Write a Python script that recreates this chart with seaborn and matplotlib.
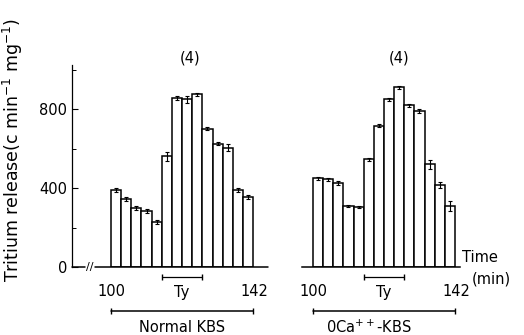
import seaborn as sns
import matplotlib.pyplot as plt
import pandas as pd

# 3-min fractions, 100-142 min
tiempoInicio = [100, 103, 106, 109, 112, 115, 118, 121, 124, 127, 130, 133, 136, 139]
liberacionNormal = [390, 345, 300, 285, 230, 560, 855, 850, 875, 700, 625, 605, 390, 355]
errorNormal = [12, 12, 10, 10, 10, 22, 10, 18, 8, 8, 8, 18, 8, 10]
liberacionSinCa = [450, 445, 425, 310, 305, 545, 715, 850, 910, 820, 790, 520, 415, 310]
errorSinCa = [8, 8, 12, 6, 6, 8, 8, 8, 8, 8, 10, 22, 15, 25]
paneles = ["Normal KBS", "0Ca$^{++}$-KBS"]
numeroN = ["(4)", "(4)"]
tyInicio, tyFin = 115, 127

mitad = [t + 1.5 for t in tiempoInicio]
df = pd.DataFrame({
    "tiempo": mitad * 2,
    "liberacion": liberacionNormal + liberacionSinCa,
    "error": errorNormal + errorSinCa,
    "medio": [paneles[0]] * 14 + [paneles[1]] * 14,
})

sns.set_style("white")
plt.rcParams['font.family'] = ['DejaVu Sans']
plt.rcParams.update({"text.color": "black", "axes.labelcolor": "black",
                     "xtick.color": "black", "ytick.color": "black"})
fig = plt.figure(figsize=(5.24, 3.35), dpi=100)
axIzq = fig.add_axes([72 / 524, 68 / 335, 196 / 524, 202.4 / 335])
axDer = fig.add_axes([302 / 524, 68 / 335, 158 / 524, 202.4 / 335])
ejes = [axIzq, axDer]
limites = [(88.46, 146.4), (96.75, 143.5)]

for i, (ax, medio) in enumerate(zip(ejes, paneles)):
    datos = df[df["medio"] == medio]
    sns.barplot(data=datos, x="tiempo", y="liberacion", native_scale=True, width=1,
                color="white", saturation=1, edgecolor="black", linewidth=1.1,
                errorbar=None, ax=ax)
    ax.errorbar(datos["tiempo"], datos["liberacion"], yerr=datos["error"], fmt="none",
                ecolor="black", elinewidth=0.8, capsize=1.5, capthick=0.8)
    ax.set_xlim(*limites[i])
    ax.set_ylim(0, 1025)
    ax.set_xlabel("")
    ax.set_ylabel("")
    ax.set_xticks([100, 142.5])
    ax.set_xticklabels(["100", "142"], fontsize=10.5)
    ax.tick_params(axis="x", length=0, pad=12)
    for s in ["top", "right", "left", "bottom"]:
        ax.spines[s].set_visible(False)
    ax.set_facecolor("none")
    # Ty bracket
    ax.plot([tyInicio, tyFin], [-50, -50], color="black", lw=0.9, marker="|", ms=4,
            clip_on=False)
    ax.text((tyInicio + tyFin) / 2, -130, "Ty", ha="center", va="center", fontsize=10.5)
    # condición
    ax.plot([100, 142], [-222, -222], color="black", lw=1.1, marker="|", ms=4, clip_on=False)
    ax.text(121 if i == 0 else 116.5, -305, medio, ha="center", va="center", fontsize=10.5)
    ax.text(123.3 if i == 0 else 125.4, 1060, numeroN[i], ha="center", va="center",
            fontsize=10.5)

# eje izquierdo con corte
axIzq.spines["left"].set_visible(True)
axIzq.spines["left"].set_color("black")
axIzq.spines["left"].set_linewidth(0.9)
axIzq.set_yticks([0, 400, 800])
axIzq.set_yticks([200, 600, 1000], minor=True)
axIzq.set_yticklabels(["0", "400", "800"], fontsize=10.5)
axIzq.tick_params(axis="y", which="major", direction="in", length=4, width=0.8, left=True)
axIzq.tick_params(axis="y", which="minor", direction="in", length=3, width=0.7, left=True)
axIzq.plot([88.46, 92.3], [0, 0], color="black", lw=1.1, clip_on=False)
axIzq.plot([95.3, 146.4], [0, 0], color="black", lw=1.1, clip_on=False)
axIzq.text(93.8, 0, "//", ha="center", va="center", fontsize=8)
axDer.set_yticks([])
axDer.tick_params(axis="y", left=False, labelleft=False)
axDer.spines["bottom"].set_visible(True)
axDer.spines["bottom"].set_color("black")
axDer.spines["bottom"].set_linewidth(1.1)

axIzq.set_ylabel("Tritium release(c min$^{-1}$ mg$^{-1}$)", fontsize=12.5)
axIzq.yaxis.set_label_coords(-0.24, 0.578)

axDer.text(144.1, 46, "Time", ha="left", va="center", fontsize=10.5)
axDer.text(147, -60, "(min)", ha="left", va="center", fontsize=10.5)

fig.savefig("out.png", dpi=100)
